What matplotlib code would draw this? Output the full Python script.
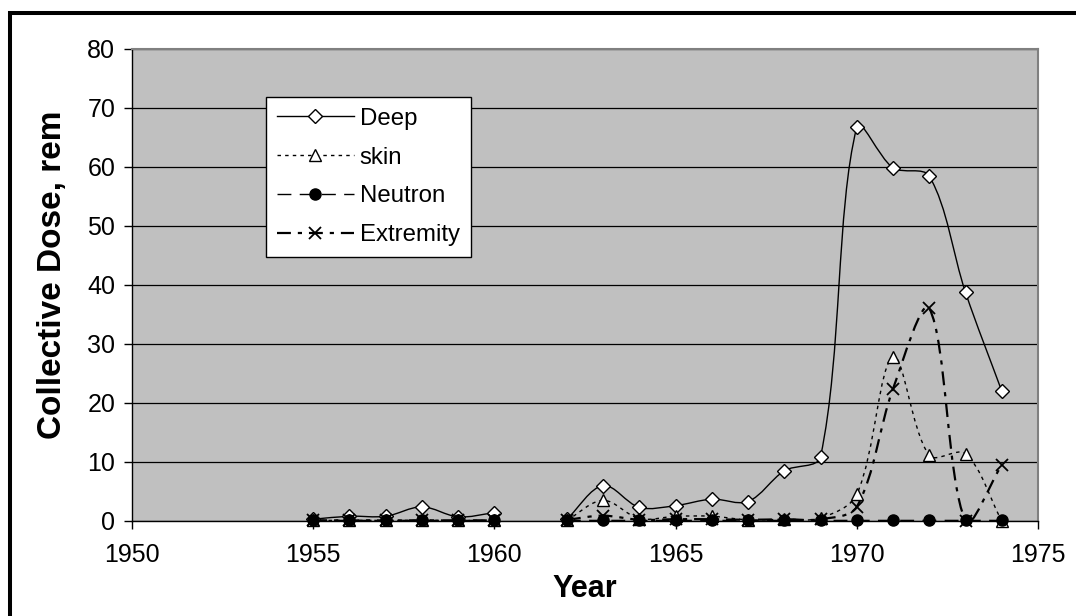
import numpy as np
import matplotlib
matplotlib.use("Agg")
import matplotlib.pyplot as plt
from matplotlib.path import Path
from matplotlib.patches import PathPatch, Rectangle
from matplotlib.lines import Line2D

plt.rcParams['font.family'] = ['Liberation Sans', 'DejaVu Sans']
plt.rcParams['lines.scale_dashes'] = False

nan = np.nan
years = [1955, 1956, 1957, 1958, 1959, 1960, 1961, 1962, 1963, 1964,
         1965, 1966, 1967, 1968, 1969, 1970, 1971, 1972, 1973, 1974]
deep = [0.3, 0.8, 0.8, 2.4, 0.7, 1.4, nan, 0.3, 6.0, 2.3,
        2.6, 3.7, 3.3, 8.5, 10.9, 66.7, 59.8, 58.4, 38.7, 22.0]
skin = [0.1, 0.1, 0.1, 0.1, 0.1, 0.1, nan, 0.1, 3.5, 0.4,
        0.8, 0.8, 0.2, 0.3, 0.5, 4.5, 27.8, 11.1, 11.4, 0.0]
neutron = [0.1, 0.1, 0.1, 0.1, 0.1, 0.1, nan, 0.1, 0.1, 0.1,
           0.1, 0.1, 0.1, 0.1, 0.1, 0.1, 0.1, 0.1, 0.1, 0.1]
extremity = [0.1, 0.1, 0.1, 0.1, 0.1, 0.1, nan, 0.2, 0.9, 0.2,
             0.3, 0.3, 0.2, 0.3, 0.3, 2.4, 22.4, 36.0, 0.0, 9.5]
series_names = ["Deep", "skin", "Neutron", "Extremity"]
xticks = [1950, 1955, 1960, 1965, 1970, 1975]
yticks = [0, 10, 20, 30, 40, 50, 60, 70, 80]

W, H = 1076, 616
fig = plt.figure(figsize=(W / 100, H / 100), dpi=100)
fig.patch.set_facecolor('white')
L, R, T, B = 132, 1038, 48.5, 521
ax = fig.add_axes([L / W, 1 - B / H, (R - L) / W, (B - T) / H])
ax.set_facecolor('#C0C0C0')
ax.set_xlim(1950, 1975)
ax.set_ylim(0, 80)


def smooth_path(xs, ys, t=1.0 / 3.0):
    """Excel-like smoothed line: Bezier segments with tangents scaled by
    on-screen segment lengths."""
    xs = np.asarray(xs, float)
    ys = np.asarray(ys, float)
    verts, codes = [], []
    idx = np.where(~np.isnan(ys))[0]
    runs = np.split(idx, np.where(np.diff(idx) != 1)[0] + 1)
    inv = ax.transData.inverted()
    for run in runs:
        if len(run) == 0:
            continue
        P = ax.transData.transform(np.column_stack([xs[run], ys[run]]))
        n = len(P)
        seg = [P[0]]
        cd = [Path.MOVETO]
        for i in range(n - 1):
            p0 = P[i - 1] if i > 0 else P[i]
            p1 = P[i]
            p2 = P[i + 1]
            p3 = P[i + 2] if i + 2 < n else P[i + 1]
            d01 = np.hypot(*(p1 - p0))
            d12 = np.hypot(*(p2 - p1))
            d23 = np.hypot(*(p3 - p2))
            f1 = d12 / (d01 + d12) if (d01 + d12) > 0 else 0
            f2 = d12 / (d12 + d23) if (d12 + d23) > 0 else 0
            c1 = p1 + t * (p2 - p0) * f1
            c2 = p2 - t * (p3 - p1) * f2
            seg += [c1, c2, p2]
            cd += [Path.CURVE4] * 3
        verts += list(inv.transform(np.array(seg)))
        codes += cd
    return Path(verts, codes)


styles = [
    dict(data=deep, ls='-', lw=1.0, marker='D', ms=7.5, mfc='white', mec='black', mew=1.0),
    dict(data=skin, ls=(0, (2.5, 3.0)), lw=1.0, marker='^', ms=9, mfc='white', mec='black', mew=1.0),
    dict(data=neutron, ls=(0, (10, 6)), lw=1.0, marker='o', ms=8, mfc='black', mec='black', mew=1.0),
    dict(data=extremity, ls=(0, (10, 5, 3, 5)), lw=1.6, marker='x', ms=9, mfc='black', mec='black', mew=1.3),
]

handles = []
for k, (name, st) in enumerate(zip(series_names, styles)):
    p = smooth_path(years, st['data'])
    patch = PathPatch(p, fill=False, edgecolor='black', lw=st['lw'],
                      linestyle=st['ls'], zorder=3 + k, capstyle='butt')
    ax.add_patch(patch)
    ax.plot(years, st['data'], linestyle='none', marker=st['marker'], ms=st['ms'],
            mfc=st['mfc'], mec=st['mec'], mew=st['mew'], zorder=10 + k, clip_on=False)
    handles.append(Line2D([], [], color='black', lw=st['lw'], linestyle=st['ls'],
                          marker=st['marker'], ms=st['ms'], mfc=st['mfc'],
                          mec=st['mec'], mew=st['mew'], dash_capstyle='butt'))

ax.set_xticks(xticks)
ax.set_yticks(yticks)
ax.tick_params(axis='both', labelsize=18, direction='out', length=6, width=1,
               color='black')
ax.tick_params(axis='x', pad=10)
ax.tick_params(axis='y', pad=6)
ax.yaxis.grid(True, color='black', lw=0.9)
ax.set_axisbelow(True)
for s in ['top', 'right']:
    ax.spines[s].set_color('#808080')
    ax.spines[s].set_linewidth(1.5)
for s in ['left', 'bottom']:
    ax.spines[s].set_color('black')
    ax.spines[s].set_linewidth(1.0)

ax.set_xlabel('Year', fontsize=22, fontweight='bold')
ax.set_ylabel('Collective Dose, rem', fontsize=24, fontweight='bold')
ax.xaxis.set_label_coords(0.5, (B - 574) / (B - T))
ax.yaxis.set_label_coords((68 - L) / (R - L), (B - 275) / (B - T))

leg = ax.legend(handles, series_names, loc='upper left',
                bbox_to_anchor=((266 - L) / (R - L), (B - 97) / (B - T)),
                borderaxespad=0, fontsize=17.3, handlelength=3.2, handletextpad=0.25,
                labelspacing=0.7, borderpad=0.45, fancybox=False, framealpha=1,
                edgecolor='black', facecolor='white', numpoints=1)
leg.get_frame().set_linewidth(1.0)
leg.set_zorder(20)

fig.add_artist(Rectangle((10 / W, -0.5), 2.0, (1 - 13 / H) + 0.5,
                         transform=fig.transFigure, fill=False,
                         edgecolor='black', lw=2.9))

fig.savefig('out.png', dpi=100, facecolor='white')
